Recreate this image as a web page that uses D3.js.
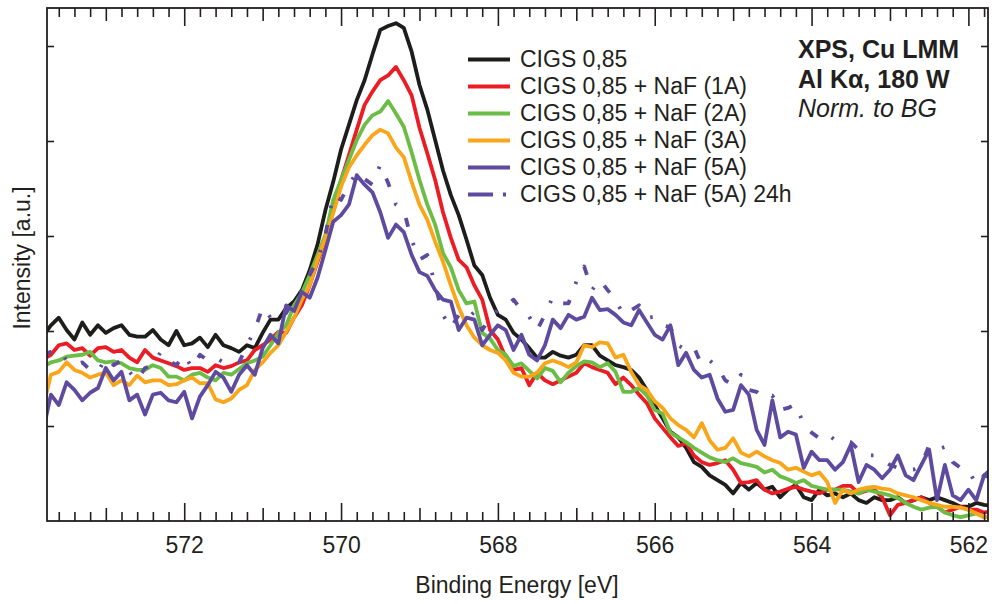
<!DOCTYPE html>
<html><head><meta charset="utf-8">
<script src="https://cdn.jsdelivr.net/npm/d3@7"></script>
<style>
body{margin:0;background:#fff}
svg{display:block}
text{font-family:"Liberation Sans",Arial,Helvetica,sans-serif;fill:#231f20}
</style>
</head><body>
<svg id="chart" width="992" height="604"></svg>
<script>
// ---------- data ----------
const energies = [573.8,573.7,573.6,573.5,573.4,573.3,573.2,573.1,573.0,
572.9,572.8,572.7,572.6,572.5,572.4,572.3,572.2,572.1,572.0,
571.9,571.8,571.7,571.6,571.5,571.4,571.3,571.2,571.1,571.0,
570.9,570.8,570.7,570.6,570.5,570.4,570.3,570.2,570.1,570.0,
569.9,569.8,569.7,569.6,569.5,569.4,569.3,569.2,569.1,569.0,
568.9,568.8,568.7,568.6,568.5,568.4,568.3,568.2,568.1,568.0,
567.9,567.8,567.7,567.6,567.5,567.4,567.3,567.2,567.1,567.0,
566.9,566.8,566.7,566.6,566.5,566.4,566.3,566.2,566.1,566.0,
565.9,565.8,565.7,565.6,565.5,565.4,565.3,565.2,565.1,565.0,
564.9,564.8,564.7,564.6,564.5,564.4,564.3,564.2,564.1,564.0,
563.9,563.8,563.7,563.6,563.5,563.4,563.3,563.2,563.1,563.0,
562.9,562.8,562.7,562.6,562.5,562.4,562.3,562.2,562.1,562.0,
561.9,561.8,561.7];

const cigs = [1.95,
2.06,2.14,2.01,1.91,2.09,1.96,2.06,1.98,2.03,2.06,
1.96,1.94,1.94,2.01,1.91,1.85,2.0,1.85,1.87,1.93,
1.83,1.96,1.85,1.82,1.78,1.85,1.82,1.98,2.12,2.12,
2.24,2.31,2.43,2.64,2.91,3.27,3.57,3.91,4.17,4.43,
4.64,4.91,5.17,5.21,5.24,5.19,4.94,4.59,4.33,4.01,
3.69,3.43,3.22,2.96,2.69,2.59,2.35,2.17,2.12,1.98,
1.91,1.82,1.72,1.72,1.78,1.74,1.72,1.75,1.85,1.85,
1.74,1.69,1.64,1.62,1.59,1.51,1.38,1.22,1.08,0.94,
0.88,0.77,0.62,0.57,0.48,0.43,0.38,0.29,0.4,0.33,
0.4,0.33,0.36,0.25,0.33,0.38,0.25,0.22,0.33,0.27,
0.29,0.25,0.29,0.22,0.19,0.25,0.22,0.22,0.25,0.19,
0.22,0.25,0.22,0.25,0.22,0.19,0.15,0.15,0.19,0.17,
0.16];

const naf1A = [1.7,
1.75,1.85,1.87,1.8,1.82,1.74,1.82,1.83,1.78,1.8,
1.72,1.67,1.8,1.72,1.69,1.66,1.63,1.59,1.61,1.61,
1.57,1.64,1.61,1.63,1.67,1.69,1.8,1.85,1.91,1.99,
1.98,2.14,2.27,2.48,2.73,2.96,3.27,3.59,3.85,4.12,
4.38,4.52,4.64,4.69,4.78,4.64,4.48,4.14,3.87,3.59,
3.25,2.98,2.75,2.67,2.48,2.33,2.01,1.91,1.72,1.59,
1.61,1.43,1.56,1.48,1.44,1.48,1.52,1.56,1.66,1.62,
1.59,1.56,1.44,1.51,1.43,1.33,1.24,1.08,0.98,0.88,
0.79,0.82,0.69,0.62,0.59,0.61,0.64,0.54,0.4,0.41,
0.43,0.33,0.29,0.31,0.34,0.36,0.33,0.31,0.29,0.33,
0.33,0.37,0.37,0.29,0.32,0.33,0.25,0.06,0.17,0.19,
0.22,0.25,0.19,0.15,0.09,0.12,0.15,0.12,0.12,0.09,
0.1];

const naf2A = [1.62,
1.67,1.69,1.73,1.74,1.75,1.78,1.69,1.67,1.68,1.66,
1.61,1.59,1.59,1.64,1.61,1.52,1.52,1.48,1.54,1.56,
1.51,1.48,1.56,1.54,1.6,1.66,1.69,1.73,1.85,1.98,
2.06,2.27,2.4,2.59,2.8,3.01,3.38,3.59,3.8,4.01,
4.17,4.27,4.31,4.42,4.29,4.15,3.88,3.59,3.33,3.12,
2.82,2.67,2.43,2.29,2.31,1.98,1.92,1.8,1.75,1.63,
1.66,1.58,1.5,1.61,1.58,1.46,1.56,1.63,1.68,1.67,
1.62,1.66,1.57,1.36,1.36,1.4,1.32,1.17,1.13,0.93,
0.88,0.83,0.77,0.72,0.67,0.64,0.62,0.66,0.61,0.59,
0.57,0.51,0.54,0.47,0.44,0.4,0.43,0.37,0.35,0.33,
0.33,0.33,0.31,0.29,0.33,0.31,0.29,0.27,0.24,0.19,
0.15,0.12,0.14,0.15,0.09,0.06,0.04,0.06,0.08,0.04,
0.04];

const naf3A = [1.2,
1.54,1.57,1.67,1.59,1.56,1.51,1.54,1.56,1.43,1.48,
1.43,1.53,1.46,1.48,1.48,1.43,1.44,1.48,1.51,1.45,
1.45,1.28,1.25,1.29,1.38,1.43,1.59,1.67,1.77,1.85,
1.99,2.14,2.33,2.48,2.75,2.98,3.24,3.52,3.72,3.85,
3.96,4.06,4.12,4.08,3.93,3.83,3.57,3.33,3.17,2.94,
2.73,2.48,2.25,2.06,1.93,1.85,1.8,1.77,1.69,1.56,
1.52,1.52,1.56,1.66,1.69,1.66,1.62,1.67,1.85,1.83,
1.88,1.87,1.72,1.75,1.57,1.43,1.38,1.26,1.19,1.08,
1.01,0.96,0.88,1.03,0.85,0.75,0.77,0.87,0.72,0.68,
0.73,0.68,0.64,0.61,0.54,0.56,0.52,0.48,0.51,0.41,
0.19,0.33,0.29,0.33,0.35,0.36,0.34,0.33,0.29,0.27,
0.25,0.22,0.19,0.17,0.15,0.15,0.14,0.12,0.08,0.04,
0.04];

const naf5A = [0.95,
1.33,1.22,1.46,1.38,1.27,1.35,1.4,1.61,1.48,1.57,
1.27,1.33,1.12,1.33,1.35,1.27,1.25,1.36,1.08,1.31,
1.43,1.57,1.51,1.36,1.54,1.64,1.54,1.82,1.96,1.87,
2.27,2.21,2.41,2.35,2.56,2.85,3.15,3.22,3.33,3.64,
3.54,3.46,3.25,2.98,3.12,3.04,2.8,2.62,2.58,2.43,
2.33,2.31,2.01,2.14,2.12,1.85,1.96,2.06,2.01,1.8,
1.96,1.75,1.69,1.85,2.12,2.03,2.17,2.12,2.15,2.35,
2.22,2.23,2.17,2.09,2.06,2.22,2.09,1.96,1.91,2.06,
1.64,1.77,1.59,1.51,1.54,1.29,1.15,1.17,1.43,1.33,
0.96,0.8,1.27,0.88,0.94,0.91,0.56,0.73,0.64,0.64,
0.54,0.62,0.8,0.41,0.59,0.54,0.45,0.54,0.69,0.48,
0.43,0.59,0.75,0.22,0.59,0.27,0.22,0.33,0.22,0.48,
0.55];

const naf5A24h = [1.75,
1.78,1.8,1.69,1.64,1.67,1.59,1.57,1.72,1.64,1.69,
1.57,1.48,1.61,1.64,1.78,1.69,1.64,1.75,1.61,1.75,
1.69,1.72,1.67,1.69,1.67,1.85,2.01,2.25,2.14,2.12,
2.19,2.33,2.43,2.59,2.75,3.01,3.43,3.38,3.54,3.67,
3.6,3.54,3.75,3.56,3.33,3.27,2.96,2.75,2.8,2.48,
2.17,2.03,2.17,2.12,2.2,2.01,2.14,2.22,2.27,2.33,
2.22,2.15,2.01,2.17,2.36,2.29,2.29,2.52,2.68,2.43,
2.54,2.43,2.33,2.17,2.22,2.27,2.14,2.15,2.06,2.04,
1.85,1.8,1.83,1.64,1.69,1.62,1.48,1.43,1.54,1.38,
1.36,1.29,1.32,1.17,1.19,1.23,1.01,0.93,0.87,0.92,
0.85,0.85,0.83,0.75,0.69,0.69,0.64,0.59,0.56,0.54,
0.54,0.59,0.8,0.75,0.78,0.62,0.56,0.54,0.38,0.48,
0.45];

const seriesNames = ["CIGS 0,85","CIGS 0,85 + NaF (1A)","CIGS 0,85 + NaF (2A)",
                     "CIGS 0,85 + NaF (3A)","CIGS 0,85 + NaF (5A)","CIGS 0,85 + NaF (5A) 24h"];
const seriesValues = [cigs, naf1A, naf2A, naf3A, naf5A, naf5A24h];
const seriesColors = ["#1d1d1b","#ec1c24","#6bbd45","#faa61a","#5e4ba0","#5e4ba0"];
const seriesDash = [null,null,null,null,null,"9,17,2.5,17"];
const legendDash = [null,null,null,null,null,"25,10,3,20"];
const xTickLabels = [572,570,568,566,564,562];
const yTickValues = [1,2,3,4,5];
const annotationLines = ["XPS, Cu LMM","Al Kα, 180 W","Norm. to BG"];
const xTitle = "Binding Energy [eV]";
const yTitle = "Intensity [a.u.]";

// ---------- layout ----------
const L = 47, R = 988, T = 8, B = 521;
const svg = d3.select("#chart");
const x = d3.scaleLinear().domain([573.75, 561.75]).range([L, R]);
const y = d3.scaleLinear().domain([0, 5.4]).range([B, T]);

svg.append("defs").append("clipPath").attr("id","clip")
  .append("rect").attr("x",L).attr("y",T).attr("width",R-L).attr("height",B-T);

// data lines
const line = d3.line().x(d => x(d[0])).y(d => y(d[1]));
const gLines = svg.append("g").attr("clip-path","url(#clip)");
seriesValues.forEach((vals, i) => {
  const pts = energies.map((e, k) => [e, vals[k]]);
  gLines.append("path").datum(pts)
    .attr("d", line)
    .attr("fill","none")
    .attr("stroke", seriesColors[i])
    .attr("stroke-width", 3.8)
    .attr("stroke-linejoin","round")
    .attr("stroke-dasharray", seriesDash[i]);
});

// axes (inward ticks)
const allTicks = x.ticks(60);
const isInt = v => Math.abs(v - Math.round(v)) < 1e-6;
const minorT = allTicks.filter(v => !isInt(v));
const midT = allTicks.filter(v => isInt(v) && Math.round(v) % 2 !== 0);
const majT = allTicks.filter(v => isInt(v) && Math.round(v) % 2 === 0);

function styleAxis(g){
  g.select(".domain").remove();
  g.selectAll(".tick line").attr("stroke","#231f20").attr("stroke-width",1.6);
}
[[minorT,9],[midT,13],[majT,18]].forEach(([vals,len]) => {
  svg.append("g").attr("transform",`translate(0,${B})`)
    .call(d3.axisBottom(x).tickValues(vals).tickSize(-len).tickFormat(""))
    .call(styleAxis);
  svg.append("g").attr("transform",`translate(0,${T})`)
    .call(d3.axisTop(x).tickValues(vals).tickSize(-len).tickFormat(""))
    .call(styleAxis);
});
// tick labels
const gx = svg.append("g").attr("transform",`translate(0,${B})`)
  .call(d3.axisBottom(x).tickValues(xTickLabels).tickSize(0).tickPadding(16).tickFormat(d3.format("d")))
  .call(styleAxis);
gx.selectAll("text").attr("font-size",23).attr("font-family","'Liberation Sans',Arial,sans-serif").attr("fill","#231f20");

svg.append("g").attr("transform",`translate(${L},0)`)
  .call(d3.axisLeft(y).tickValues(yTickValues).tickSize(-7).tickFormat(""))
  .call(styleAxis);
svg.append("g").attr("transform",`translate(${R},0)`)
  .call(d3.axisRight(y).tickValues(yTickValues).tickSize(-7).tickFormat(""))
  .call(styleAxis);

// frame
svg.append("rect").attr("x",L).attr("y",T).attr("width",R-L).attr("height",B-T)
  .attr("fill","none").attr("stroke","#231f20").attr("stroke-width",1.8);

// axis titles
svg.append("text").attr("x",(L+R)/2 - 0.5).attr("y",593).attr("text-anchor","middle")
  .attr("font-size",23).text(xTitle);
svg.append("text").attr("transform","translate(30,258) rotate(-90)").attr("text-anchor","middle")
  .attr("font-size",23).text(yTitle);

// legend
const lg = svg.append("g");
seriesNames.forEach((name, i) => {
  const by = 67 + 27*i;
  lg.append("line").attr("x1",468).attr("x2",510).attr("y1",by-7.5).attr("y2",by-7.5)
    .attr("stroke",seriesColors[i]).attr("stroke-width",4)
    .attr("stroke-dasharray", legendDash[i]);
  lg.append("text").attr("x",520).attr("y",by).attr("font-size",23).text(name);
});

// annotation
const ann = svg.append("g");
[[58,"bold","normal"],[88,"bold","normal"],[117,"normal","italic"]].forEach(([by,fw,fs],i) => {
  ann.append("text").attr("x",798).attr("y",by).attr("font-size",25)
    .attr("font-weight",fw).attr("font-style",fs).text(annotationLines[i]);
});
</script>
</body></html>
